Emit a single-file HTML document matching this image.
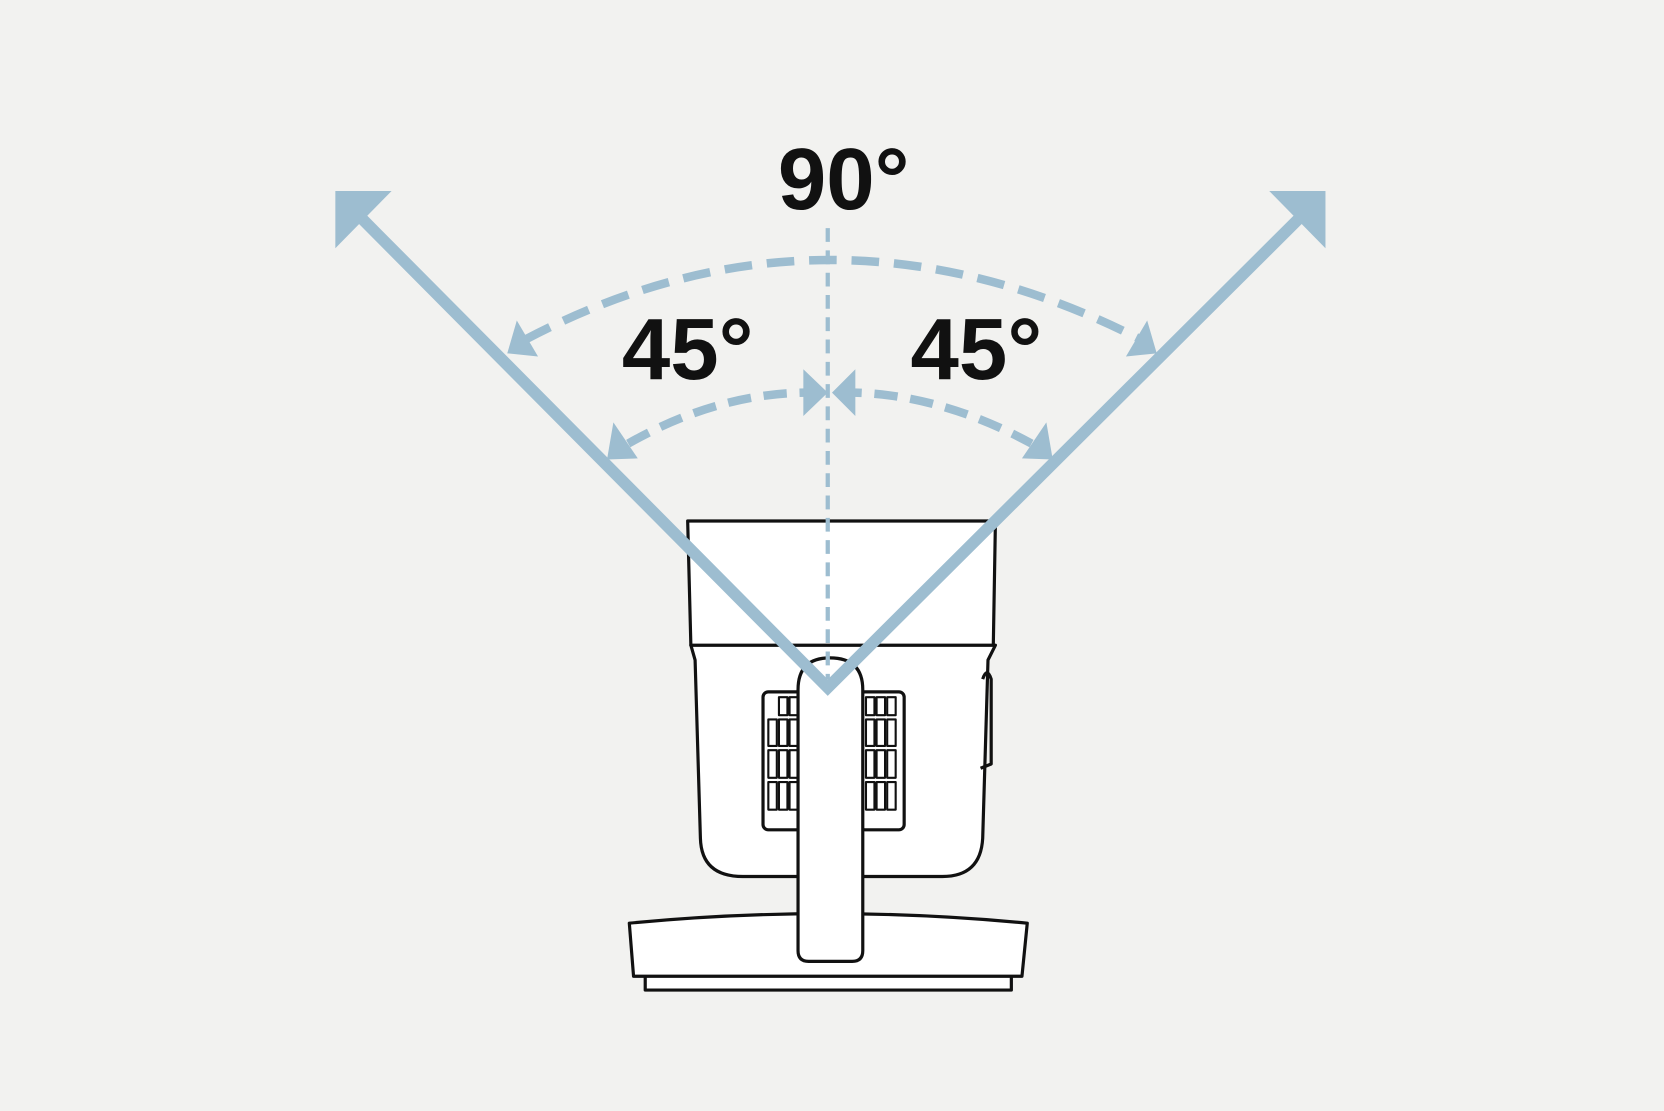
<!DOCTYPE html>
<html><head><meta charset="utf-8"><style>
html,body{margin:0;padding:0;background:#f2f2f0;}
svg{display:block;}
</style></head><body>
<svg width="1664" height="1111" viewBox="0 0 1568 1047" preserveAspectRatio="none" xmlns="http://www.w3.org/2000/svg">
<rect width="1568" height="1047" fill="#f2f2f0"/>
<g stroke="#111" stroke-width="3" fill="#fff" stroke-linejoin="round">
  <!-- lower body -->
  <path d="M651,608 L938,608 L931,622 L926,790 Q924,826 888,826 L700,826 Q661,826 660,790 L655,622 Z"/>
  <path d="M926,640 Q930,628 934,640 L934,720 L924,724" fill="none"/>
  <!-- top body -->
  <path d="M648,491 L938,491 L936,608 L651,608 Z"/>
  <!-- vents -->
  <rect x="719" y="652" width="46" height="130" rx="5"/>
  <rect x="810" y="652" width="42" height="130" rx="5"/>
  <g stroke-width="2">
    <rect x="724" y="678" width="8" height="25"/><rect x="734" y="678" width="8" height="25"/><rect x="744" y="678" width="8" height="25"/>
    <rect x="724" y="707" width="8" height="26"/><rect x="734" y="707" width="8" height="26"/><rect x="744" y="707" width="8" height="26"/>
    <rect x="724" y="737" width="8" height="26"/><rect x="734" y="737" width="8" height="26"/><rect x="744" y="737" width="8" height="26"/>
    <rect x="734" y="657" width="8" height="17"/><rect x="744" y="657" width="8" height="17"/>
    <rect x="816" y="657" width="8" height="17"/><rect x="826" y="657" width="8" height="17"/><rect x="836" y="657" width="8" height="17"/>
    <rect x="816" y="678" width="8" height="25"/><rect x="826" y="678" width="8" height="25"/><rect x="836" y="678" width="8" height="25"/>
    <rect x="816" y="707" width="8" height="26"/><rect x="826" y="707" width="8" height="26"/><rect x="836" y="707" width="8" height="26"/>
    <rect x="816" y="737" width="8" height="26"/><rect x="826" y="737" width="8" height="26"/><rect x="836" y="737" width="8" height="26"/>
  </g>
  <!-- base -->
  <rect x="608" y="918" width="345" height="15"/>
  <path d="M593,870 Q780,852 968,870 L963,920 L597,920 Z"/>
  <!-- stand -->
  <path d="M752,650 Q752,620 782,620 Q813,620 813,650 L813,896 Q813,906 803,906 L762,906 Q752,906 752,896 Z"/>
</g>
<g stroke="#9dbdd0" fill="none">
  <line x1="780" y1="215" x2="780" y2="640" stroke-width="4" stroke-dasharray="13 8"/>
  <path d="M495,320 Q780,170 1075,320" stroke-width="8" stroke-dasharray="26 14"/>
  <path d="M592,418 Q680,368 770,370 M790,370 Q880,368 972,418" stroke-width="8" stroke-dasharray="22 12"/>
  <polyline points="340,205 780,648 1225,205" stroke-width="11" stroke-linejoin="miter"/>
</g>
<g fill="#9dbdd0">
  <polygon points="316,180 369,180 316,234"/>
  <polygon points="1249,180 1196,180 1249,234"/>
  <polygon points="478,333 487,302 507,336"/>
  <polygon points="1090,333 1081,302 1061,336"/>
  <polygon points="572,433 578,398 601,432"/>
  <polygon points="992,433 986,398 963,432"/>
  <polygon points="780,370 757,348 757,392"/>
  <polygon points="784,370 806,348 806,392"/>
</g>
<g font-family="'Liberation Sans', sans-serif" font-weight="bold" fill="#111" font-size="82" text-anchor="middle">
  <text x="795" y="197">90°</text>
  <text x="648" y="357">45°</text>
  <text x="920" y="357">45°</text>
</g>
</svg>
</body></html>
